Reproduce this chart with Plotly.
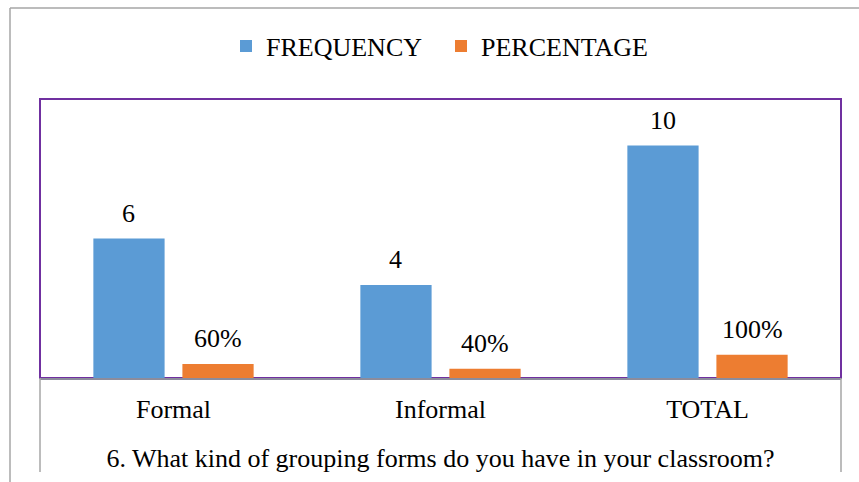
import plotly.graph_objects as go

categories = ["Formal", "Informal", "TOTAL"]
frequency = [6, 4, 10]
percentage = [0.6, 0.4, 1.0]
freq_labels = ["6", "4", "10"]
pct_labels = ["60%", "40%", "100%"]
series_names = ["FREQUENCY", "PERCENTAGE"]
x_title = "6. What kind of grouping forms do you have in your classroom?"

BLUE = "#5B9BD5"
ORANGE = "#ED7D31"
FONT = "Liberation Serif"
FS = 26

W, H = 859, 482
ML, MR, MT, MB = 40, 18, 99, 104
plot_w = W - ML - MR
plot_h = H - MT - MB

BARGAP = 0.333
GROUPGAP = 0.2

fig = go.Figure()
fig.add_trace(go.Bar(x=categories, y=frequency, name=series_names[0],
                     marker=dict(color=BLUE, line=dict(width=0))))
fig.add_trace(go.Bar(x=categories, y=percentage, name=series_names[1],
                     marker=dict(color=ORANGE, line=dict(width=0))))

band = plot_w / len(categories)
slot = band * (1 - BARGAP) / 2
for vals, labels, sign in [(frequency, freq_labels, -1), (percentage, pct_labels, 1)]:
    for c, v, t in zip(categories, vals, labels):
        fig.add_annotation(x=c, y=v, xref="x", yref="y", text=t, showarrow=False,
                           xshift=sign * slot / 2, yanchor="bottom", yshift=9,
                           font=dict(family=FONT, size=FS, color="#000000"))

def px_x(p):
    return (p - ML) / plot_w

def px_y(p):
    return (H - MB - p) / plot_h

shapes = [
    dict(type="rect", xref="paper", yref="paper", x0=0, x1=1, y0=0, y1=1,
         line=dict(color="#7030A0", width=2), layer="below"),
    dict(type="line", xref="paper", yref="paper", x0=px_x(10), x1=px_x(870),
         y0=px_y(8), y1=px_y(8), line=dict(color="#A6A6A6", width=1.5)),
    dict(type="line", xref="paper", yref="paper", x0=px_x(10), x1=px_x(10),
         y0=px_y(8), y1=px_y(490), line=dict(color="#A6A6A6", width=1.5)),
    dict(type="line", xref="paper", yref="paper", x0=0, x1=0,
         y0=0, y1=px_y(472), line=dict(color="#A6A6A6", width=1.5)),
    dict(type="line", xref="paper", yref="paper", x0=1, x1=1,
         y0=0, y1=px_y(472), line=dict(color="#A6A6A6", width=1.5)),
]

fig.update_layout(
    width=W, height=H,
    margin=dict(l=ML, r=MR, t=MT, b=MB, pad=0),
    paper_bgcolor="white", plot_bgcolor="white",
    barmode="group", bargap=BARGAP, bargroupgap=GROUPGAP,
    showlegend=True,
    legend=dict(orientation="h", x=px_x(226), xanchor="left", y=px_y(46), yanchor="middle",
                font=dict(family=FONT, size=FS, color="#000000"),
                traceorder="normal", itemwidth=30,
                entrywidth=170, entrywidthmode="pixels"),
    font=dict(family=FONT, size=FS, color="#000000"),
    shapes=shapes,
    xaxis=dict(showline=True, linecolor="#8C8C9C", linewidth=2, ticks="",
               ticklabelstandoff=7,
               tickfont=dict(family=FONT, size=FS, color="#000000"),
               showgrid=False, zeroline=False,
               title=dict(text=x_title, standoff=26,
                          font=dict(family=FONT, size=FS, color="#000000"))),
    yaxis=dict(range=[0, 12], visible=False, showgrid=False, zeroline=False),
)

fig.write_html("out.html")
